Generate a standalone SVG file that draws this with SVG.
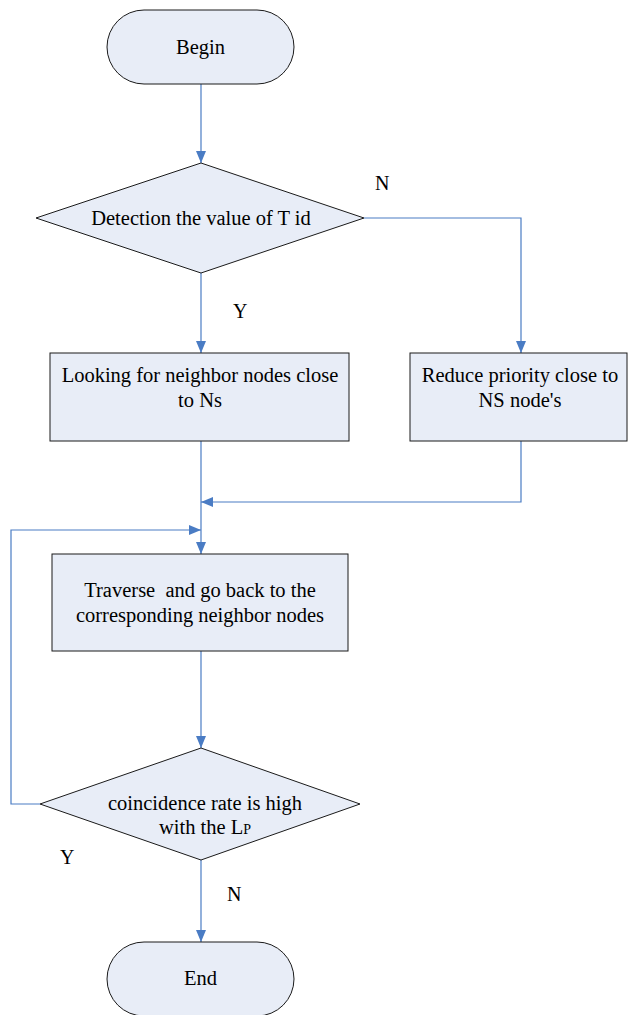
<svg xmlns="http://www.w3.org/2000/svg" width="628" height="1015" viewBox="0 0 628 1015">
<style>
.n{fill:#E8EDF7;stroke:#1a1a1a;stroke-width:1}
.t{font-family:"Liberation Serif","Times New Roman",serif;font-size:20.5px;fill:#000;text-anchor:middle}
.l{font-family:"Liberation Serif","Times New Roman",serif;font-size:20px;fill:#000}
.c{fill:none;stroke:#4A7CC4;stroke-width:1.2}
</style>
<defs>
<marker id="a" viewBox="0 0 12 10" refX="12" refY="5" markerWidth="12" markerHeight="10" markerUnits="userSpaceOnUse" orient="auto">
<path d="M0,0 L12,5 L0,10 Z" fill="#4A7CC4"/>
</marker>
</defs>
<rect width="628" height="1015" fill="#fff"/>
<g id="connectors">
<path class="c" d="M201,84 V163" marker-end="url(#a)"/>
<path class="c" d="M201,273 V353" marker-end="url(#a)"/>
<path class="c" d="M364,218 H521 V353" marker-end="url(#a)"/>
<path class="c" d="M201,441 V554" marker-end="url(#a)"/>
<path class="c" d="M521,441 V502 H201" marker-end="url(#a)"/>
<path class="c" d="M40,804 H11 V530 H201" marker-end="url(#a)"/>
<path class="c" d="M201,651 V748" marker-end="url(#a)"/>
<path class="c" d="M201,860 V942" marker-end="url(#a)"/>
</g>
<g id="begin">
<rect class="n" x="107" y="10" width="187" height="74" rx="37" ry="37"/>
<text class="t" x="200.5" y="54">Begin</text>
</g>
<g id="detect">
<polygon class="n" points="201,163 364,218 201,273 36,218"/>
<text class="t" x="201" y="225">Detection the value of T id</text>
</g>
<g id="looking">
<rect class="n" x="50" y="353" width="299" height="88"/>
<text class="t" x="200" y="382">Looking for neighbor nodes close</text>
<text class="t" x="200" y="407">to Ns</text>
</g>
<g id="reduce">
<rect class="n" x="410" y="353" width="217" height="88"/>
<text class="t" x="520" y="382">Reduce priority close to</text>
<text class="t" x="520" y="407">NS node's</text>
</g>
<g id="traverse">
<rect class="n" x="52" y="554" width="296" height="97"/>
<text class="t" x="200" y="597">Traverse&#160; and go back to the</text>
<text class="t" x="200" y="622">corresponding neighbor nodes</text>
</g>
<g id="coincide">
<polygon class="n" points="201,748 360,804 201,860 40,804"/>
<text class="t" x="205" y="810">coincidence rate is high</text>
<text class="t" x="205" y="834">with the L<tspan font-size="14">P</tspan></text>
</g>
<g id="end">
<rect class="n" x="107" y="942" width="187" height="74" rx="37" ry="37"/>
<text class="t" x="200.5" y="985">End</text>
</g>
<g id="labels">
<text class="l" x="375" y="190">N</text>
<text class="l" x="233" y="318">Y</text>
<text class="l" x="60" y="864">Y</text>
<text class="l" x="227" y="901">N</text>
</g>
</svg>
